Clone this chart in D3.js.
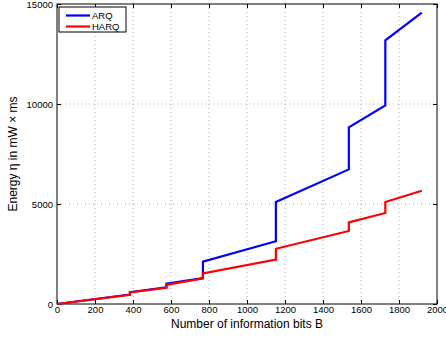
<!DOCTYPE html>
<html>
<head>
<meta charset="utf-8">
<script src="https://cdn.jsdelivr.net/npm/d3@7"></script>
<style>
  body { margin: 0; background: #fff; }
  svg { display: block; font-family: "Liberation Sans", Arial, sans-serif; }
</style>
</head>
<body>
<div id="chart"></div>
<script>
// step points (duplicate B where the curve jumps)
const bits = [0, 384, 384, 576, 576, 768, 768, 1152, 1152, 1536, 1536, 1728, 1728, 1920];
const arq = [0, 470, 590, 830, 1010, 1290, 2120, 3140, 5100, 6730, 8830, 9930, 13180, 14570];
const harq = [0, 460, 580, 810, 960, 1280, 1530, 2220, 2760, 3650, 4080, 4550, 5100, 5660];
const xTicks = [0, 200, 400, 600, 800, 1000, 1200, 1400, 1600, 1800, 2000];
const yTicks = [0, 5000, 10000, 15000];
const seriesNames = ["ARQ", "HARQ"];
const seriesColors = ["#0000ff", "#ff0000"];

const W = 446, H = 338;
const margin = { top: 4, right: 9, bottom: 34, left: 57 };
const width = W - margin.left - margin.right;
const height = H - margin.top - margin.bottom;

const svg = d3.select("#chart").append("svg")
  .attr("width", W)
  .attr("height", H);

const g = svg.append("g")
  .attr("transform", "translate(" + margin.left + "," + margin.top + ")");

const x = d3.scaleLinear().domain([0, 2000]).range([0, width]);
const y = d3.scaleLinear().domain([0, 15000]).range([height, 0]);
const fmt = d3.format("d");

// dotted grid
g.append("g").selectAll("line")
  .data(xTicks.slice(1, -1))
  .enter().append("line")
  .attr("x1", d => x(d)).attr("x2", d => x(d))
  .attr("y1", 0).attr("y2", height)
  .attr("stroke", "#999").attr("stroke-width", 0.8)
  .attr("stroke-dasharray", "1,3");

g.append("g").selectAll("line")
  .data(yTicks.slice(1, -1))
  .enter().append("line")
  .attr("x1", 0).attr("x2", width)
  .attr("y1", d => y(d)).attr("y2", d => y(d))
  .attr("stroke", "#999").attr("stroke-width", 0.8)
  .attr("stroke-dasharray", "1,3");

// axes (ticks inward, matlab style)
const styleAxis = sel => {
  sel.select(".domain").remove();
  sel.selectAll("line").attr("stroke", "#000");
  sel.selectAll("text").attr("fill", "#000").style("font-size", "9.5px");
};

g.append("g")
  .attr("transform", "translate(0," + height + ")")
  .call(d3.axisBottom(x).tickValues(xTicks).tickFormat(fmt).tickSizeInner(-4).tickSizeOuter(0).tickPadding(2))
  .call(styleAxis);

g.append("g")
  .call(d3.axisLeft(y).tickValues(yTicks).tickFormat(fmt).tickSizeInner(-4).tickSizeOuter(0).tickPadding(4))
  .call(styleAxis);

g.append("g")
  .call(d3.axisTop(x).tickValues(xTicks).tickSizeInner(-4).tickSizeOuter(0).tickFormat(""))
  .call(styleAxis);

g.append("g")
  .attr("transform", "translate(" + width + ",0)")
  .call(d3.axisRight(y).tickValues(yTicks).tickSizeInner(-4).tickSizeOuter(0).tickFormat(""))
  .call(styleAxis);

g.append("rect")
  .attr("width", width).attr("height", height)
  .attr("fill", "none").attr("stroke", "#000").attr("stroke-width", 1);

// curves
const line = d3.line()
  .x(d => x(d[0]))
  .y(d => y(d[1]));

[arq, harq].forEach((vals, i) => {
  g.append("path")
    .datum(bits.map((b, k) => [b, vals[k]]))
    .attr("fill", "none")
    .attr("stroke", seriesColors[i])
    .attr("stroke-width", 2.2)
    .attr("d", line);
});

// legend
const lg = g.append("g").attr("transform", "translate(2,3)");
lg.append("rect")
  .attr("width", 67).attr("height", 25)
  .attr("fill", "#fff").attr("stroke", "#000").attr("stroke-width", 1);
seriesNames.forEach((name, i) => {
  const yy = 8.5 + i * 11;
  lg.append("line")
    .attr("x1", 7).attr("x2", 31)
    .attr("y1", yy).attr("y2", yy)
    .attr("stroke", seriesColors[i]).attr("stroke-width", 2.2);
  lg.append("text")
    .attr("x", 33).attr("y", yy + 3.5)
    .style("font-size", "9.5px")
    .text(name);
});

// axis labels
svg.append("text")
  .attr("x", margin.left + width / 2)
  .attr("y", 328)
  .attr("text-anchor", "middle")
  .style("font-size", "12px")
  .text("Number of information bits B");

svg.append("text")
  .attr("transform", "translate(17," + 154 + ") rotate(-90)")
  .attr("text-anchor", "middle")
  .style("font-size", "12px")
  .text("Energy η in mW × ms");
</script>
</body>
</html>
